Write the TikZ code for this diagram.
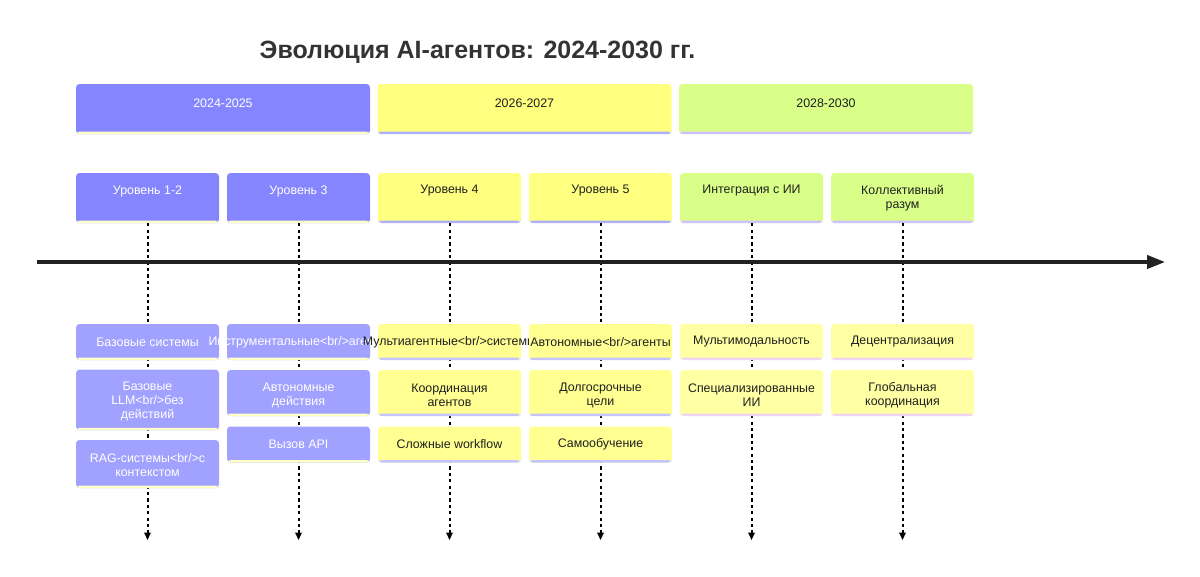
\documentclass[tikz,border=0pt]{standalone}
\usepackage{fontspec}
\setmainfont{Liberation Sans}
\usetikzlibrary{arrows.meta}
\definecolor{hblue}{HTML}{8585FF}
\definecolor{dblue}{HTML}{A1A1FF}
\definecolor{hyel}{HTML}{FFFF80}
\definecolor{dyel}{HTML}{FFFF92}
\definecolor{hgrn}{HTML}{D9FF88}
\definecolor{dlyel}{HTML}{FFFFA3}
\definecolor{sylw}{HTML}{FFFFC8}
\definecolor{slav}{HTML}{AFAFFF}
\definecolor{slav2}{HTML}{C4C4FF}
\definecolor{spur}{HTML}{CFC0FF}
\definecolor{spink}{HTML}{F2D4F6}
\definecolor{ink}{HTML}{1F1F1F}
\definecolor{titleink}{HTML}{333333}
\definecolor{axis}{HTML}{222222}
\begin{document}
\begin{tikzpicture}[x=0.75pt,y=-0.75pt,
  card/.style 2 args={draw=none, fill=#1, rounded corners=2.6pt, inner sep=0pt,
    path picture={\fill[#2] ([yshift=1.8pt]path picture bounding box.south west) rectangle (path picture bounding box.south east);}},
  hdr/.style={minimum width=220.5pt, minimum height=37.5pt},
  lvl/.style={minimum width=107.25pt, minimum height=37.5pt},
  dbox/.style={minimum width=107.25pt, minimum height=#1},
  lbl/.style={font=\fontsize{9.3}{10.5}\selectfont, align=center, inner sep=0pt},
  wt/.style={lbl, text=white},
  bk/.style={lbl, text=ink},
  dline/.style={draw=black, line width=1.5pt, dash pattern=on 2.4pt off 2.4pt, -{Triangle[length=5.5pt,width=4.8pt]}},
]
\useasboundingbox (0,0) rectangle (1200,576);

% title
\node[font=\fontsize{18.75}{22}\selectfont\bfseries, text=titleink, inner sep=0pt] (title) at (477.5,52) {Эволюция AI-агентов: 2024-2030 гг.};

% period headers
\node[card={hblue}{sylw}, hdr] (h1) at (223,109) {};
\node[wt] (h1t) at (223,103) {2024-2025};
\node[card={hyel}{slav}, hdr] (h2) at (524.5,109) {};
\node[bk] (h2t) at (524.5,103) {2026-2027};
\node[card={hgrn}{spur}, hdr] (h3) at (826,109) {};
\node[bk] (h3t) at (826,103) {2028-2030};

% level boxes
\node[card={hblue}{sylw}, lvl] (l1) at (147.5,198) {};
\node[wt] (l1t) at (147.5,191) {Уровень 1-2};
\node[card={hblue}{sylw}, lvl] (l2) at (298.5,198) {};
\node[wt] (l2t) at (298.5,191) {Уровень 3};
\node[card={hyel}{slav}, lvl] (l3) at (449.5,198) {};
\node[bk] (l3t) at (449.5,191) {Уровень 4};
\node[card={hyel}{slav}, lvl] (l4) at (600.5,198) {};
\node[bk] (l4t) at (600.5,191) {Уровень 5};
\node[card={hgrn}{spur}, lvl] (l5) at (751.5,198) {};
\node[bk] (l5t) at (751.5,191) {Интеграция с ИИ};
\node[card={hgrn}{spur}, lvl] (l6) at (902.5,198) {};
\node[bk] (l6t) at (902.5,198) {Коллективный\\разум};

% dashed drop lines
\coordinate (e1) at (147.5,540);
\coordinate (e2) at (298.5,540);
\coordinate (e3) at (449.5,540);
\coordinate (e4) at (600.5,540);
\coordinate (e5) at (751.5,540);
\coordinate (e6) at (902.5,540);
\draw[dline] (l1.south) -- (e1);
\draw[dline] (l2.south) -- (e2);
\draw[dline] (l3.south) -- (e3);
\draw[dline] (l4.south) -- (e4);
\draw[dline] (l5.south) -- (e5);
\draw[dline] (l6.south) -- (e6);

% main timeline
\coordinate (t0) at (37,262);
\coordinate (t1) at (1165,262);
\draw[draw=axis, line width=2.3pt, -{Triangle[length=13.5pt,width=10pt]}] (t0) -- (t1);

% column 1
\node[card={dblue}{sylw}, dbox=27pt] (d11) at (147.5,342) {};
\node[wt] (d11t) at (147.5,342) {Базовые системы};
\node[card={dblue}{sylw}, dbox=45.5pt] (d12) at (147.5,400) {};
\node[wt] (d12t) at (147.5,401) {Базовые\\LLM<br/>без\\действий};
\node[card={dblue}{sylw}, dbox=36pt] (d13) at (147.5,464) {};
\node[wt] (d13t) at (147.5,465) {RAG-системы<br/>с\\контекстом};

% column 2
\node[card={dblue}{sylw}, dbox=27pt] (d21) at (298.5,342) {};
\node[wt] (d21t) at (298.5,342) {Инструментальные<br/>агенты};
\node[card={dblue}{sylw}, dbox=34.5pt] (d22) at (298.5,393) {};
\node[wt] (d22t) at (298.5,395) {Автономные\\действия};
\node[card={dblue}{sylw}, dbox=27pt] (d23) at (298.5,444.5) {};
\node[wt] (d23t) at (298.5,444.5) {Вызов API};

% column 3
\node[card={dyel}{slav2}, dbox=27pt] (d31) at (449.5,342) {};
\node[bk] (d31t) at (449.5,342) {Мультиагентные<br/>системы};
\node[card={dyel}{slav2}, dbox=34.5pt] (d32) at (449.5,393) {};
\node[bk] (d32t) at (449.5,395) {Координация\\агентов};
\node[card={dyel}{slav2}, dbox=27pt] (d33) at (449.5,444.5) {};
\node[bk] (d33t) at (449.5,444.5) {Сложные workflow};

% column 4
\node[card={dyel}{slav2}, dbox=27pt] (d41) at (600.5,342) {};
\node[bk] (d41t) at (600.5,342) {Автономные<br/>агенты};
\node[card={dyel}{slav2}, dbox=34.5pt] (d42) at (600.5,393) {};
\node[bk] (d42t) at (600.5,395) {Долгосрочные\\цели};
\node[card={dyel}{slav2}, dbox=27pt] (d43) at (600.5,444.5) {};
\node[bk] (d43t) at (600.5,444.5) {Самообучение};

% column 5
\node[card={dlyel}{spink}, dbox=27pt] (d51) at (751.5,342) {};
\node[bk] (d51t) at (751.5,342) {Мультимодальность};
\node[card={dlyel}{spink}, dbox=34.5pt] (d52) at (751.5,393) {};
\node[bk] (d52t) at (751.5,395) {Специализированные\\ИИ};

% column 6
\node[card={dlyel}{spink}, dbox=27pt] (d61) at (902.5,342) {};
\node[bk] (d61t) at (902.5,342) {Децентрализация};
\node[card={dlyel}{spink}, dbox=34.5pt] (d62) at (902.5,393) {};
\node[bk] (d62t) at (902.5,395) {Глобальная\\координация};
\end{tikzpicture}
\end{document}
